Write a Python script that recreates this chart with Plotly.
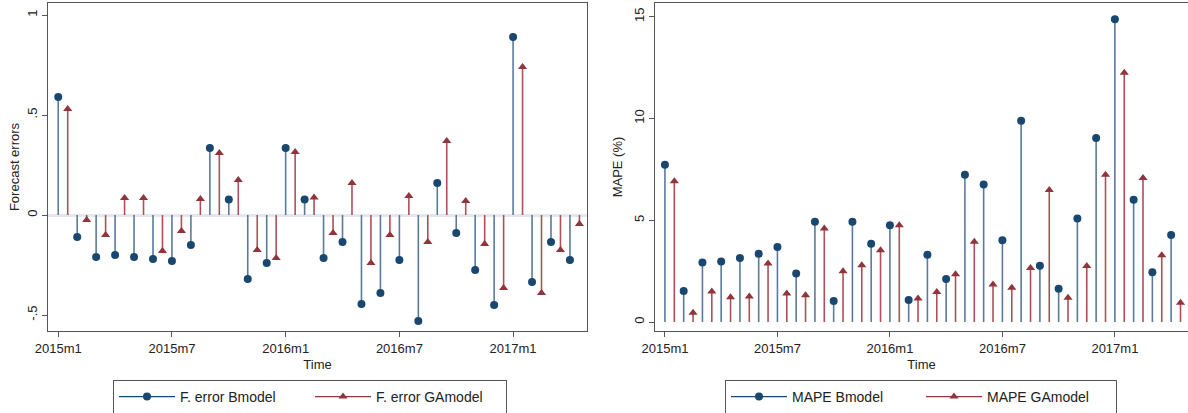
import plotly.graph_objects as go

# ---------------- data ----------------
months = [f"{2015 + k // 12}m{k % 12 + 1}" for k in range(28)]   # 2015m1 .. 2017m4
tick_months = ["2015m1", "2015m7", "2016m1", "2016m7", "2017m1"]

ferr_bmodel = [0.59, -0.11, -0.21, -0.20, -0.21, -0.22, -0.23, -0.15, 0.335, 0.077,
               -0.32, -0.24, 0.335, 0.077, -0.215, -0.135, -0.445, -0.39, -0.225, -0.53,
               0.16, -0.09, -0.275, -0.45, 0.89, -0.335, -0.135, -0.225]
ferr_gamodel = [0.53, -0.025, -0.10, 0.085, 0.085, -0.18, -0.08, 0.08, 0.31, 0.175,
                -0.175, -0.215, 0.315, 0.087, -0.09, 0.16, -0.24, -0.10, 0.095, -0.135,
                0.37, 0.07, -0.145, -0.365, 0.74, -0.39, -0.175, -0.045]
mape_bmodel = [7.73, 1.52, 2.92, 2.97, 3.14, 3.35, 3.68, 2.39, 4.93, 1.03,
               4.93, 3.84, 4.75, 1.08, 3.30, 2.12, 7.24, 6.75, 4.02, 9.89,
               2.76, 1.63, 5.08, 9.04, 14.87, 6.01, 2.45, 4.28]
mape_gamodel = [6.91, 0.46, 1.50, 1.22, 1.26, 2.88, 1.40, 1.32, 4.60, 2.50,
                2.79, 3.53, 4.75, 1.16, 1.47, 2.35, 3.94, 1.85, 1.68, 2.66,
                6.49, 1.19, 2.75, 7.24, 12.25, 7.08, 3.28, 0.95]

GA_SHIFT = 0.5   # GA model drawn half a month to the right

NAVY, MAROON = "#1a476f", "#90353b"
NAVY_STEM, MAROON_STEM = "#5a7a9c", "#ad5058"
FONT = "Liberation Sans, Arial, Helvetica, sans-serif"

pos_b = [months.index(m) for m in months]
pos_ga = [p + GA_SHIFT for p in pos_b]
tickvals = [months.index(m) for m in tick_months]


def stem_xy(xs, ys):
    sx, sy = [], []
    for x, y in zip(xs, ys):
        sx += [x, x, None]
        sy += [0, y, None]
    return sx, sy


fig = go.Figure()


def add_series(xs, ys, name, color, stem_color, symbol, xa, ya, legend):
    sx, sy = stem_xy(xs, ys)
    fig.add_trace(go.Scatter(x=sx, y=sy, mode="lines", line=dict(color=stem_color, width=1.6),
                             showlegend=False, hoverinfo="skip", xaxis=xa, yaxis=ya))
    fig.add_trace(go.Scatter(x=xs, y=ys, mode="markers",
                             marker=dict(symbol=symbol, size=8, color=color),
                             showlegend=False, name=name, xaxis=xa, yaxis=ya))
    # legend key entry
    fig.add_trace(go.Scatter(x=[None], y=[None], mode="lines+markers", name=name,
                             line=dict(color=color, width=1.2),
                             marker=dict(symbol=symbol, size=8, color=color),
                             legend=legend, xaxis=xa, yaxis=ya))


add_series(pos_b, ferr_bmodel, "F. error Bmodel", NAVY, NAVY_STEM, "circle", "x", "y", "legend")
add_series(pos_ga, ferr_gamodel, "F. error GAmodel", MAROON, MAROON_STEM, "triangle-up", "x", "y", "legend")
add_series(pos_b, mape_bmodel, "MAPE Bmodel", NAVY, NAVY_STEM, "circle", "x2", "y2", "legend2")
add_series(pos_ga, mape_gamodel, "MAPE GAmodel", MAROON, MAROON_STEM, "triangle-up", "x2", "y2", "legend2")

W, H = 1188, 413
axis_common = dict(showgrid=False, ticks="outside", ticklen=5, tickcolor="#555", tickwidth=1.2,
                   showline=True, linecolor="#555", linewidth=1.3, automargin=False,
                   tickfont=dict(family=FONT, size=13, color="#222"))

fig.update_layout(
    width=W, height=H, margin=dict(l=0, r=0, t=0, b=0, autoexpand=False),
    paper_bgcolor="white", plot_bgcolor="white",
    font=dict(family=FONT, size=13, color="#222"),
    xaxis=dict(domain=[48 / W, 587 / W], range=[-0.54, 27.9], tickvals=tickvals, ticktext=tick_months,
               mirror=True, zeroline=False, anchor="y",
               title=dict(text="Time", standoff=5, font=dict(size=13)), **axis_common),
    yaxis=dict(domain=[1 - 331 / H, 1 - 3 / H], range=[-0.58, 1.06], tickvals=[-0.5, 0, 0.5, 1],
               ticktext=["-.5", "0", ".5", "1"], tickangle=-90, mirror=True, anchor="x",
               zeroline=True, zerolinecolor="#e3e8ee", zerolinewidth=3,
               title=dict(text="Forecast errors", standoff=2, font=dict(size=13)), **axis_common),
    xaxis2=dict(domain=[655 / W, 1.0], range=[-0.53, 27.9], tickvals=tickvals, ticktext=tick_months,
                mirror=True, zeroline=False, anchor="y2",
                title=dict(text="Time", standoff=5, font=dict(size=13)), **axis_common),
    yaxis2=dict(domain=[1 - 331 / H, 1 - 3 / H], range=[-0.44, 15.67], tickvals=[0, 5, 10, 15],
                tickangle=-90, mirror=False, anchor="x2", zeroline=False,
                title=dict(text="MAPE (%)", standoff=6, font=dict(size=13)), **axis_common),
    legend=dict(orientation="h", x=113 / W, y=1 - 380 / H, xanchor="left", yanchor="top",
                bordercolor="#555", borderwidth=1, font=dict(size=14, color="#222"),
                entrywidth=125, itemwidth=56, tracegroupgap=0),
    legend2=dict(orientation="h", x=725 / W, y=1 - 380 / H, xanchor="left", yanchor="top",
                 bordercolor="#555", borderwidth=1, font=dict(size=14, color="#222"),
                 entrywidth=124, itemwidth=56, tracegroupgap=0),
)

fig.write_html("out.html", config={"displayModeBar": False},
               post_script="document.body.style.margin='0';")
